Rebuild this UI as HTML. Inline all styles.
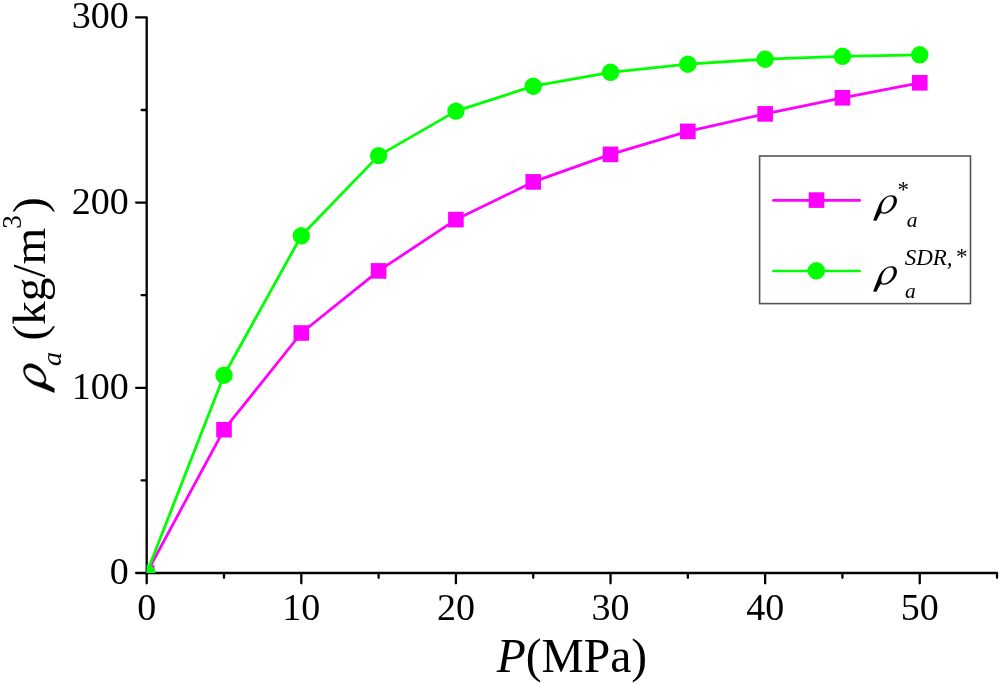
<!DOCTYPE html>
<html><head><meta charset="utf-8"><style>
html,body{margin:0;padding:0;background:#fff;width:1000px;height:684px;overflow:hidden;font-family:"Liberation Serif",serif;}
svg{display:block;will-change:transform;}
</style></head><body>
<svg width="1000" height="684" viewBox="0 0 1000 684">
<defs><clipPath id="pc"><rect x="146.70" y="0" width="900" height="573.00"/></clipPath></defs>
<rect width="1000" height="684" fill="#fff"/>
<path d="M146.70,17.40 L146.70,583.30 M136.10,573.00 L997.06,573.00 M136.10,387.80 L146.70,387.80 M136.10,202.60 L146.70,202.60 M136.10,17.40 L146.70,17.40 M141.60,480.40 L146.70,480.40 M141.60,295.20 L146.70,295.20 M141.60,110.00 L146.70,110.00 M301.31,573.00 L301.31,583.30 M455.92,573.00 L455.92,583.30 M610.53,573.00 L610.53,583.30 M765.14,573.00 L765.14,583.30 M919.75,573.00 L919.75,583.30 M224.00,573.00 L224.00,577.80 M378.62,573.00 L378.62,577.80 M533.23,573.00 L533.23,577.80 M687.84,573.00 L687.84,577.80 M842.44,573.00 L842.44,577.80 M997.06,573.00 L997.06,577.80" fill="none" stroke="#000" stroke-width="2.3" stroke-linecap="round" stroke-linejoin="round"/>
<g clip-path="url(#pc)">
<polyline points="146.70,573.00 224.00,429.70 301.31,333.00 378.62,270.90 455.92,219.60 533.23,181.90 610.53,154.40 687.84,131.40 765.14,113.90 842.44,97.80 919.75,82.80" fill="none" stroke="#ff00ff" stroke-width="2.8" stroke-linejoin="round" stroke-linecap="round"/>
<rect x="138.90" y="565.20" width="15.60" height="15.60" fill="#ff00ff"/>
<rect x="216.20" y="421.90" width="15.60" height="15.60" fill="#ff00ff"/>
<rect x="293.51" y="325.20" width="15.60" height="15.60" fill="#ff00ff"/>
<rect x="370.81" y="263.10" width="15.60" height="15.60" fill="#ff00ff"/>
<rect x="448.12" y="211.80" width="15.60" height="15.60" fill="#ff00ff"/>
<rect x="525.43" y="174.10" width="15.60" height="15.60" fill="#ff00ff"/>
<rect x="602.73" y="146.60" width="15.60" height="15.60" fill="#ff00ff"/>
<rect x="680.04" y="123.60" width="15.60" height="15.60" fill="#ff00ff"/>
<rect x="757.34" y="106.10" width="15.60" height="15.60" fill="#ff00ff"/>
<rect x="834.64" y="90.00" width="15.60" height="15.60" fill="#ff00ff"/>
<rect x="911.95" y="75.00" width="15.60" height="15.60" fill="#ff00ff"/>
<polyline points="146.70,573.00 224.00,375.20 301.31,235.80 378.62,155.60 455.92,111.10 533.23,86.20 610.53,72.30 687.84,64.20 765.14,59.20 842.44,56.30 919.75,54.80" fill="none" stroke="#00ff00" stroke-width="2.8" stroke-linejoin="round" stroke-linecap="round"/>
<circle cx="146.70" cy="573.00" r="8.70" fill="#00ff00"/>
<circle cx="224.00" cy="375.20" r="8.70" fill="#00ff00"/>
<circle cx="301.31" cy="235.80" r="8.70" fill="#00ff00"/>
<circle cx="378.62" cy="155.60" r="8.70" fill="#00ff00"/>
<circle cx="455.92" cy="111.10" r="8.70" fill="#00ff00"/>
<circle cx="533.23" cy="86.20" r="8.70" fill="#00ff00"/>
<circle cx="610.53" cy="72.30" r="8.70" fill="#00ff00"/>
<circle cx="687.84" cy="64.20" r="8.70" fill="#00ff00"/>
<circle cx="765.14" cy="59.20" r="8.70" fill="#00ff00"/>
<circle cx="842.44" cy="56.30" r="8.70" fill="#00ff00"/>
<circle cx="919.75" cy="54.80" r="8.70" fill="#00ff00"/>
</g>
<g font-family="Liberation Serif" font-size="38" fill="#000">
<text x="128.70" y="583.90" text-anchor="end">0</text>
<text x="128.70" y="398.70" text-anchor="end">100</text>
<text x="128.70" y="213.50" text-anchor="end">200</text>
<text x="128.70" y="28.30" text-anchor="end">300</text>
<text x="146.70" y="620.00" text-anchor="middle">0</text>
<text x="301.31" y="620.00" text-anchor="middle">10</text>
<text x="455.92" y="620.00" text-anchor="middle">20</text>
<text x="610.53" y="620.00" text-anchor="middle">30</text>
<text x="765.14" y="620.00" text-anchor="middle">40</text>
<text x="919.75" y="620.00" text-anchor="middle">50</text>
</g>
<text x="496.7" y="672.2" font-family="Liberation Serif" font-size="47.5"><tspan font-style="italic">P</tspan>(MPa)</text>
<g transform="translate(45.3,392.5) rotate(-90)" font-family="Liberation Serif">
<path transform="translate(-3.88,-25.71) scale(0.0568)" d="M66 610 C108 505 150 395 185 300 C230 180 330 72 455 68 C555 64 590 140 572 225 C550 330 440 445 320 465 C285 470 252 462 238 445 C215 470 175 540 140 613 Z M242 385 C238 300 300 110 425 97 C490 90 515 140 505 215 C490 310 410 425 305 440 C265 445 245 420 242 385 Z" fill="#000" fill-rule="evenodd" stroke="#000" stroke-width="6"/>
<text x="26.4" y="16.1" font-size="28" font-style="italic">a</text>
<text x="52" y="0" font-size="47.2">(kg/m</text>
<text x="163.7" y="-23.9" font-size="27">3</text>
<text x="179.5" y="0" font-size="47.2">)</text>
</g>
<rect x="759.6" y="156" width="210.9" height="147.6" fill="none" stroke="#555" stroke-width="1.6"/>
<line x1="773.5" y1="200.3" x2="859.7" y2="200.3" stroke="#ff00ff" stroke-width="2.7" stroke-linecap="round"/>
<rect x="808.70" y="192.30" width="15.60" height="15.60" fill="#ff00ff"/>
<line x1="773.5" y1="271" x2="859.7" y2="271" stroke="#00ff00" stroke-width="2.7" stroke-linecap="round"/>
<circle cx="816.3" cy="270.8" r="8.7" fill="#00ff00"/>
<path transform="translate(870,192) scale(0.046795)" d="M66 610 C108 505 150 395 185 300 C230 180 330 72 455 68 C555 64 590 140 572 225 C550 330 440 445 320 465 C285 470 252 462 238 445 C215 470 175 540 140 613 Z M242 385 C238 300 300 110 425 97 C490 90 515 140 505 215 C490 310 410 425 305 440 C265 445 245 420 242 385 Z" fill="#000" fill-rule="evenodd"/>
<path transform="translate(870,263) scale(0.046795)" d="M66 610 C108 505 150 395 185 300 C230 180 330 72 455 68 C555 64 590 140 572 225 C550 330 440 445 320 465 C285 470 252 462 238 445 C215 470 175 540 140 613 Z M242 385 C238 300 300 110 425 97 C490 90 515 140 505 215 C490 310 410 425 305 440 C265 445 245 420 242 385 Z" fill="#000" fill-rule="evenodd"/>
<g font-family="Liberation Serif" font-style="italic">
<text x="897.5" y="196.7" font-size="23" font-style="normal">*</text>
<text x="906.8" y="226.9" font-size="21.5">a</text>
<text x="904.7" y="265.3" font-size="23">SDR,</text>
<text x="955.9" y="264.3" font-size="23" font-style="normal">*</text>
<text x="905.1" y="297.5" font-size="21.5">a</text>
</g>
</svg>
</body></html>
